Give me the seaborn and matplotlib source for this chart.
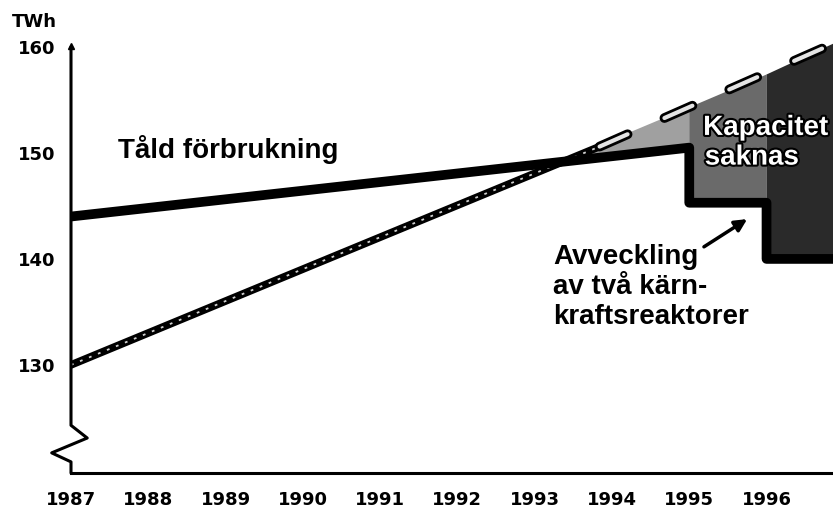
import matplotlib
matplotlib.use("Agg")
import matplotlib.pyplot as plt
import matplotlib.patheffects as pe
import seaborn as sns

sns.set_theme(style="white")
plt.rcParams['font.family'] = ['Liberation Sans', 'DejaVu Sans']
plt.rcParams['lines.scale_dashes'] = False
plt.rcParams['text.color'] = 'black'
plt.rcParams['xtick.color'] = 'black'
plt.rcParams['ytick.color'] = 'black'

# DATA
years = [1987, 1988, 1989, 1990, 1991, 1992, 1993, 1994, 1995, 1996]
y_ticks = [130, 140, 150, 160]

# tillgänglig kapacitet (tjock svart linje)
cap_x = [1987, 1995, 1995, 1996, 1996, 1996.86]
cap_y = [144, 150.5, 145.3, 145.3, 140, 140]

# förbrukning, hel del och streckad prognos
dem_x = [1987, 1993.84]
dem_y = [130, 150.6]
prog_x = [1993.84, 1996.86]
prog_y = [150.6, 160.3]

# skuggat område (kapacitet saknas)
gap1_x = [1993.3, 1995, 1995]
gap1_y = [149.1, 154.3, 150.5]
gap2_x = [1995, 1996, 1996, 1995]
gap2_y = [154.3, 157.4, 145.3, 145.3]
gap3_x = [1996, 1996.86, 1996.86, 1996]
gap3_y = [157.4, 160.3, 140, 140]

fig = plt.figure(figsize=(8.33, 5.11), dpi=100)
ax = fig.add_axes([71/833, 38/511, 762/833, 473/511])
ax.set_xlim(1987, 1996.86)
ax.set_ylim(119.8, 164.43)

# skuggning
ax.fill(gap1_x, gap1_y, facecolor='#a0a0a0', edgecolor='none', zorder=1)
ax.fill(gap2_x, gap2_y, facecolor='#6a6a6a', edgecolor='none', zorder=1)
ax.fill(gap3_x, gap3_y, facecolor='#2a2a2a', edgecolor='none', zorder=1)

# förbrukning
sns.lineplot(x=dem_x, y=dem_y, ax=ax, color='black', lw=5.5, estimator=None,
             sort=False, solid_capstyle='round', zorder=3)
l, = ax.plot(dem_x, dem_y, color='#d0d0d0', lw=1.3, zorder=4)
l.set_dashes((2, 5))
l1, = ax.plot(prog_x, prog_y, color='black', lw=7, dash_capstyle='round', zorder=3)
l1.set_dashes((22, 29))
l2, = ax.plot(prog_x, prog_y, color='#e4e4e4', lw=3, dash_capstyle='round', zorder=4)
l2.set_dashes((22, 29))

# kapacitet
sns.lineplot(x=cap_x, y=cap_y, ax=ax, color='black', lw=7, estimator=None,
             sort=False, zorder=5)

# axlar
for s in ['top', 'right', 'left']:
    ax.spines[s].set_visible(False)
ax.spines['bottom'].set_color('black')
ax.spines['bottom'].set_linewidth(2.2)
ax.plot([1987, 1987, 1987.21, 1986.75, 1987, 1987],
        [160, 124.3, 123.1, 121.7, 120.85, 119.8],
        color='black', lw=2.2, clip_on=False, zorder=6)
ax.plot([1987], [160.1], marker='^', ms=5, color='black', clip_on=False, zorder=6)

ax.set_xticks(years)
ax.set_xticklabels([str(y) for y in years], fontfamily='DejaVu Sans',
                   fontweight='bold', fontsize=13)
ax.set_yticks(y_ticks)
ax.set_yticklabels([str(v) for v in y_ticks], fontfamily='DejaVu Sans',
                   fontweight='bold', fontsize=13)
ax.tick_params(axis='x', length=0, pad=13)
ax.tick_params(axis='y', length=0, pad=11)
ax.grid(False)

fig.text(12/833, 1 - 27/511, 'TWh', fontfamily='DejaVu Sans', fontweight='bold',
         fontsize=13, va='baseline', ha='left')

# texter
ax.text(1987.61, 149.5, 'Tåld förbrukning', fontsize=20, fontweight='bold',
        va='baseline', ha='left')
stroke = [pe.withStroke(linewidth=3, foreground='black')]
ax.text(1995.18, 151.7, 'Kapacitet', fontsize=20, fontweight='bold', color='white',
        va='baseline', ha='left', path_effects=stroke, zorder=7)
ax.text(1995.2, 148.9, 'saknas', fontsize=20, fontweight='bold', color='white',
        va='baseline', ha='left', path_effects=stroke, zorder=7)
ax.text(1993.24, 141.4, 'Avveckling\nav två kärn-\nkraftsreaktorer', fontsize=20,
        fontweight='bold', va='top', ha='left', linespacing=1.2)
ax.annotate('', xy=(1995.78, 143.9), xytext=(1995.16, 141.0),
            arrowprops=dict(arrowstyle='-|>', lw=2.5, color='black', mutation_scale=18))

fig.savefig('out.png', dpi=100)
